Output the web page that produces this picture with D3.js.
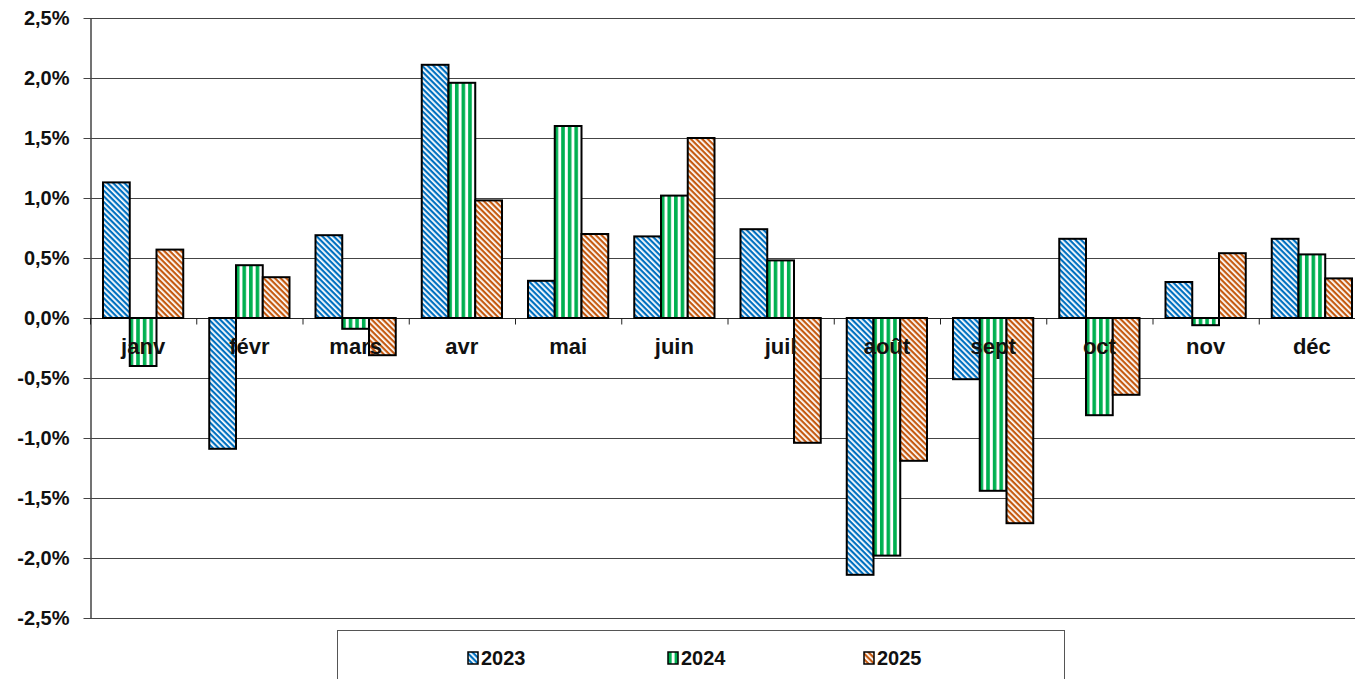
<!DOCTYPE html>
<html>
<head>
<meta charset="utf-8">
<script src="https://cdn.jsdelivr.net/npm/d3@7"></script>
<style>
  body { margin: 0; background: #fff; }
  svg { display: block; }
</style>
</head>
<body>
<script>
const months = ["janv", "févr", "mars", "avr", "mai", "juin", "juil", "août", "sept", "oct", "nov", "déc"];
const years = ["2023", "2024", "2025"];
const v2023 = [1.13, -1.09, 0.69, 2.11, 0.31, 0.68, 0.74, -2.14, -0.51, 0.66, 0.30, 0.66];
const v2024 = [-0.40, 0.44, -0.09, 1.96, 1.60, 1.02, 0.48, -1.98, -1.44, -0.81, -0.06, 0.53];
const v2025 = [0.57, 0.34, -0.31, 0.98, 0.70, 1.50, -1.04, -1.19, -1.71, -0.64, 0.54, 0.33];
const yTicks = [2.5, 2.0, 1.5, 1.0, 0.5, 0.0, -0.5, -1.0, -1.5, -2.0, -2.5];

const series = [v2023, v2024, v2025];
const rows = months.map((m, i) => ({ month: m, vals: years.map((y, j) => ({ year: y, v: series[j][i] })) }));

const W = 1355, H = 679;
const mLeft = 90, mRight = 1365, mTop = 18, mBottom = 618;

const svg = d3.select("body").append("svg").attr("width", W).attr("height", H);

// patterns
const defs = svg.append("defs");
function diag(id, color) {
  const p = defs.append("pattern").attr("id", id).attr("patternUnits", "userSpaceOnUse")
    .attr("width", 4).attr("height", 4).attr("patternTransform", "rotate(45)");
  p.append("rect").attr("width", 4).attr("height", 4).attr("fill", "#fff");
  p.append("rect").attr("width", 4).attr("height", 2.2).attr("fill", color);
}
diag("p2023", "#0070C0");
diag("p2025", "#C55A11");
const pg = defs.append("pattern").attr("id", "p2024").attr("patternUnits", "userSpaceOnUse")
  .attr("width", 6.6).attr("height", 6.6);
pg.append("rect").attr("width", 6.6).attr("height", 6.6).attr("fill", "#fff");
pg.append("rect").attr("x", 0).attr("width", 3.6).attr("height", 6.6).attr("fill", "#00B050");

const colorOf = { "2023": "url(#p2023)", "2024": "url(#p2024)", "2025": "url(#p2025)" };

const x0 = d3.scaleBand().domain(months).range([mLeft, mRight]).padding(0);
const x1 = d3.scaleBand().domain(years).range([13, x0.bandwidth() - 13]).padding(0);
const y = d3.scaleLinear().domain([-2.5, 2.5]).range([mBottom, mTop]);

const fmt = d => d3.format(".1f")(d).replace(".", ",").replace("−", "-") + "%";

// gridlines
svg.append("g").selectAll("line").data(yTicks).join("line")
  .attr("x1", mLeft).attr("x2", mRight)
  .attr("y1", d => Math.round(y(d)) + 0.5).attr("y2", d => Math.round(y(d)) + 0.5)
  .attr("stroke", "#444").attr("stroke-width", 1);

// y axis
const yAxis = svg.append("g").attr("transform", `translate(${mLeft + 0.5},0)`)
  .call(d3.axisLeft(y).tickValues(yTicks).tickFormat(fmt).tickSize(7).tickSizeOuter(0));
yAxis.select(".domain").attr("stroke", "#444").attr("stroke-width", 1.5);
yAxis.selectAll(".tick line").attr("stroke", "#444");
yAxis.selectAll(".tick text")
  .attr("x", -21)
  .attr("font-family", "Arial, 'Liberation Sans', sans-serif")
  .attr("font-weight", "bold").attr("font-size", 20).attr("fill", "#111");

// zero line + category ticks
const zy = Math.round(y(0)) + 0.5;
svg.append("line").attr("x1", mLeft).attr("x2", mRight).attr("y1", zy).attr("y2", zy)
  .attr("stroke", "#222").attr("stroke-width", 1.2);
svg.append("g").selectAll("line").data(months).join("line")
  .attr("x1", d => x0(d) + 0.5).attr("x2", d => x0(d) + 0.5)
  .attr("y1", zy).attr("y2", zy + 6).attr("stroke", "#222");

// bars
const groups = svg.append("g").selectAll("g").data(rows).join("g")
  .attr("transform", d => `translate(${x0(d.month)},0)`);
groups.selectAll("rect").data(d => d.vals).join("rect")
  .attr("x", d => x1(d.year))
  .attr("width", x1.bandwidth())
  .attr("y", d => y(Math.max(0, d.v)))
  .attr("height", d => Math.abs(y(d.v) - y(0)))
  .attr("fill", d => colorOf[d.year])
  .attr("stroke", "#000").attr("stroke-width", 2);

// month labels (over the bars)
svg.append("g").selectAll("text").data(months).join("text")
  .attr("x", d => x0(d) + x0.bandwidth() / 2)
  .attr("y", y(0) + 36)
  .attr("text-anchor", "middle")
  .attr("font-family", "Arial, 'Liberation Sans', sans-serif")
  .attr("font-weight", "bold").attr("font-size", 22).attr("fill", "#111")
  .text(d => d);

// legend
const lg = svg.append("g");
lg.append("rect").attr("x", 337.5).attr("y", 630.5).attr("width", 727).attr("height", 60)
  .attr("fill", "#fff").attr("stroke", "#555").attr("stroke-width", 1);
const legX = [468, 668, 864];
const items = lg.selectAll("g").data(years).join("g")
  .attr("transform", (d, i) => `translate(${legX[i]},652)`);
items.append("rect").attr("width", 10).attr("height", 12)
  .attr("fill", d => colorOf[d]).attr("stroke", "#000").attr("stroke-width", 1.5);
items.append("text").attr("x", 13).attr("y", 12.5)
  .attr("font-family", "Arial, 'Liberation Sans', sans-serif")
  .attr("font-weight", "bold").attr("font-size", 20).attr("fill", "#111")
  .text(d => d);
</script>
</body>
</html>
